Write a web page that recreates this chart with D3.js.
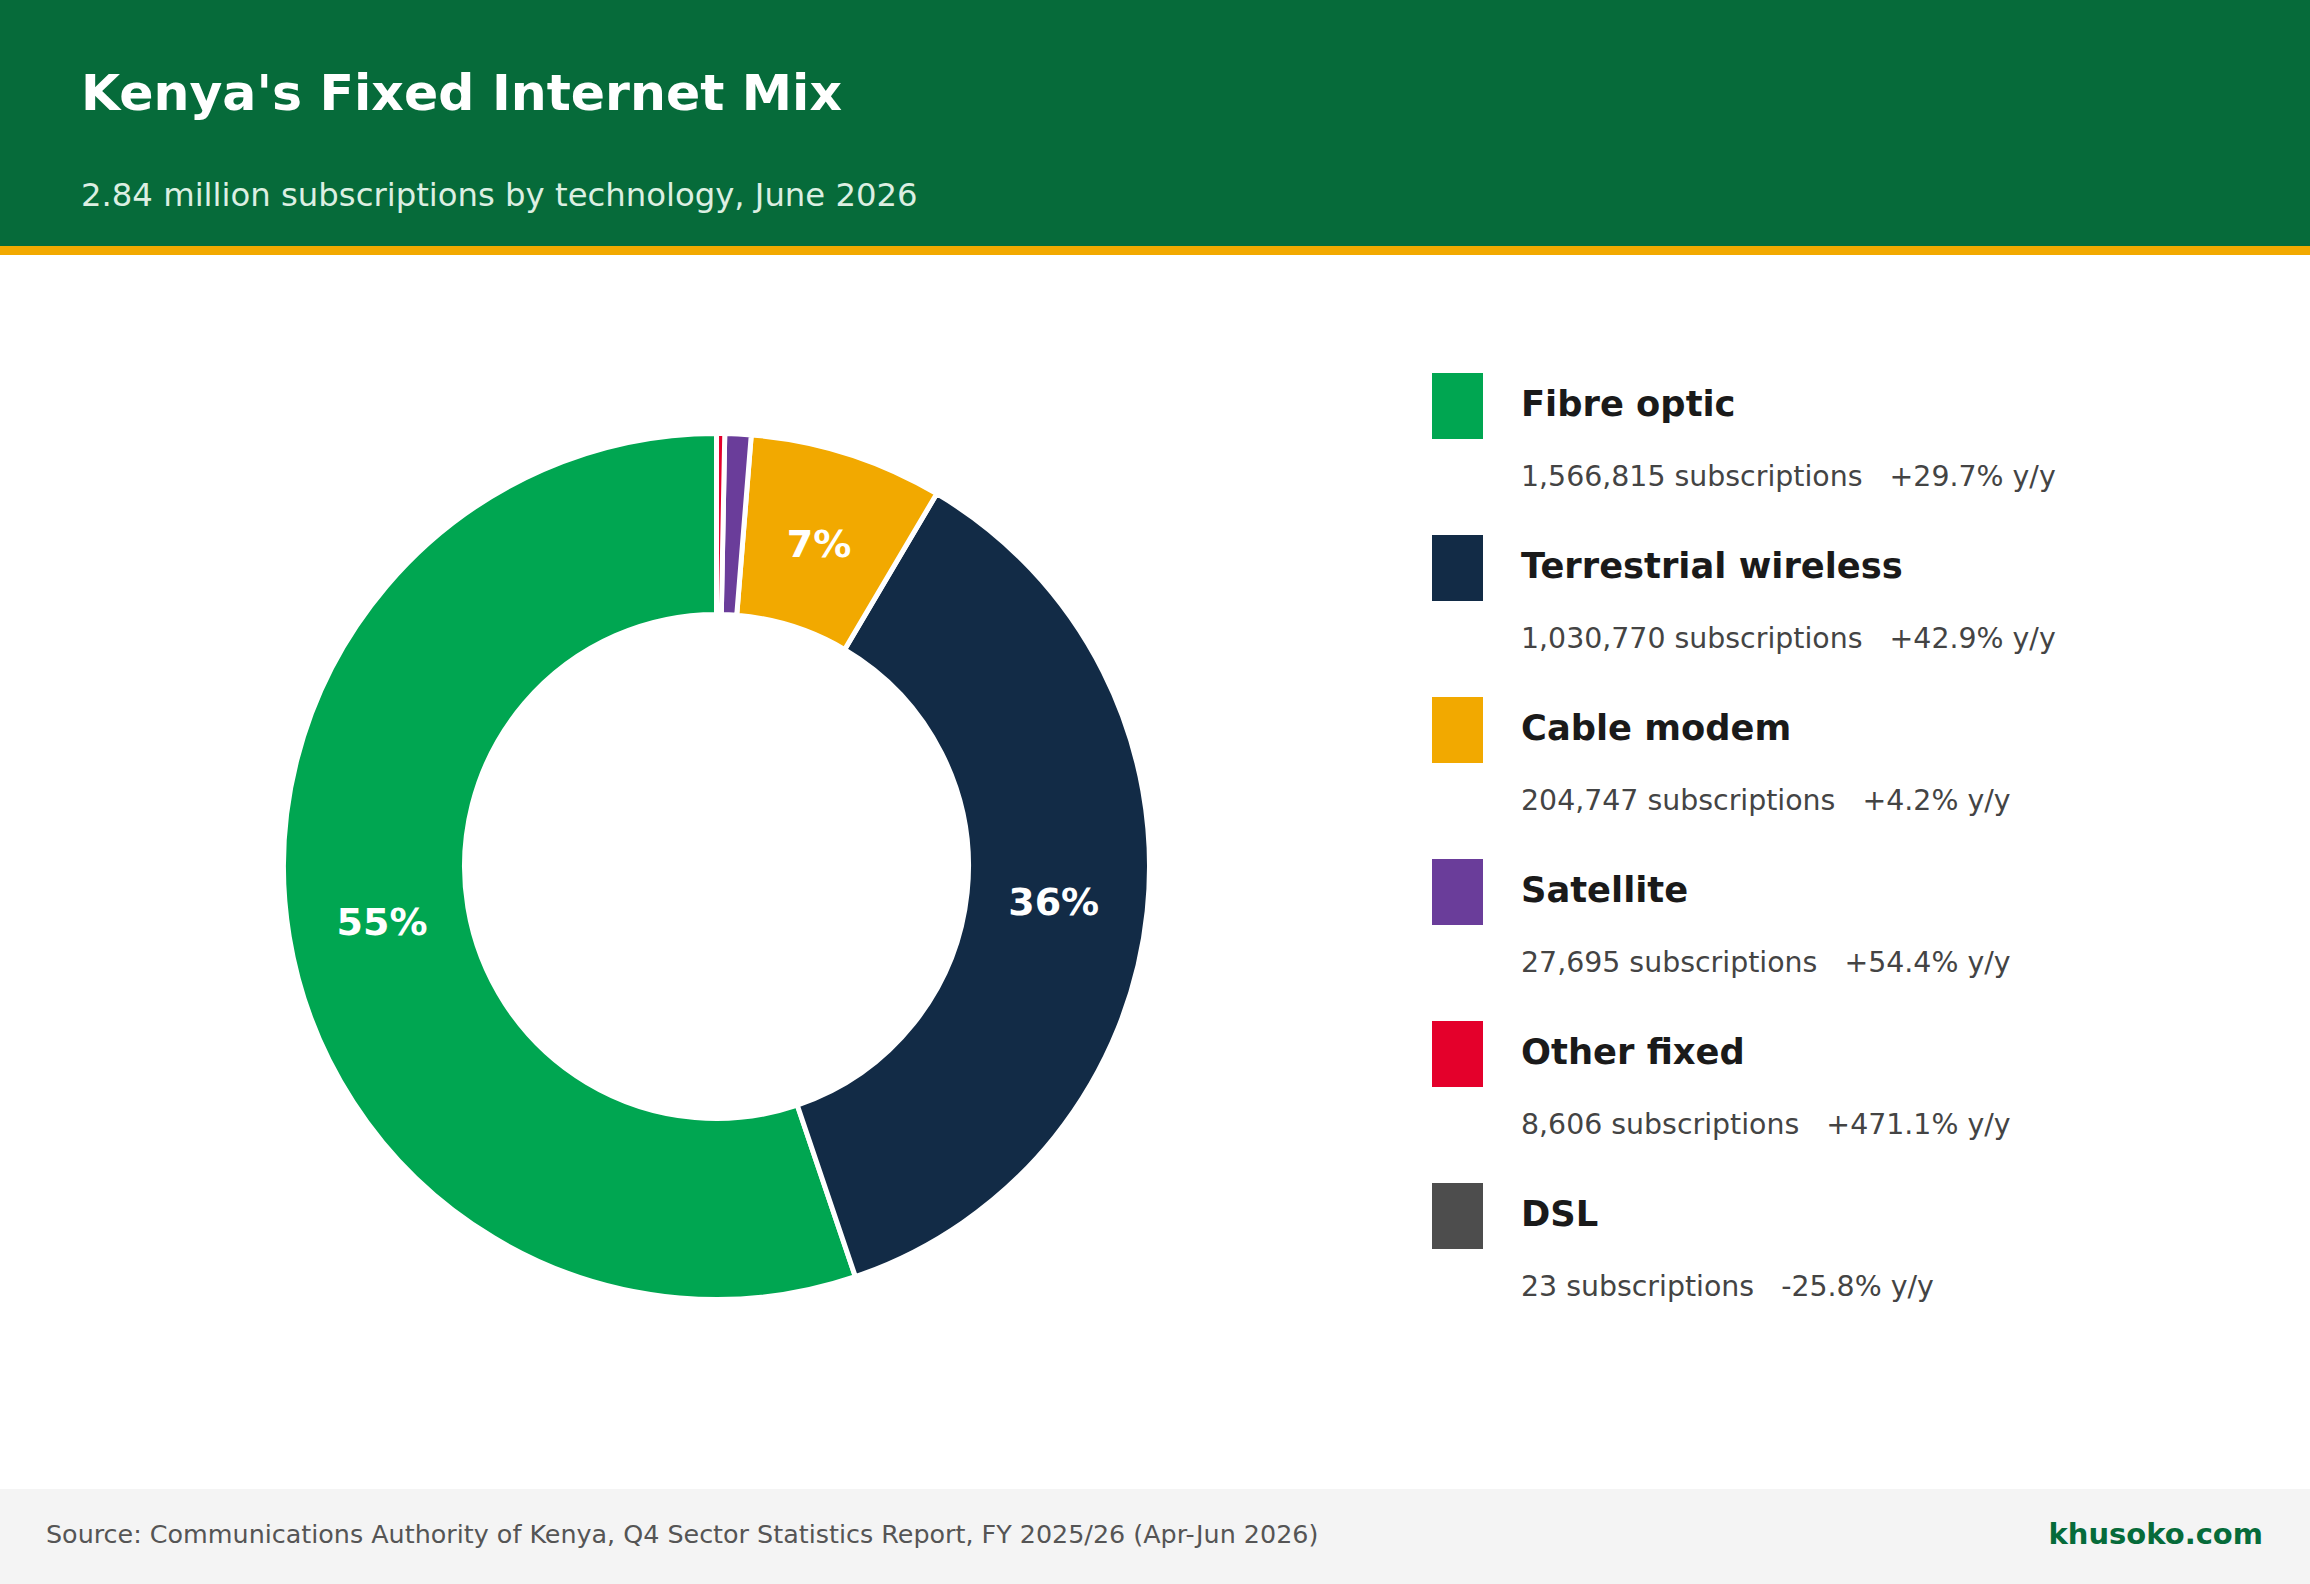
<!DOCTYPE html>
<html>
<head>
<meta charset="utf-8">
<title>Kenya's Fixed Internet Mix</title>
<script src="https://cdn.jsdelivr.net/npm/d3@7"></script>
<style>
  body { margin: 0; background: #ffffff; }
  svg text { font-family: "DejaVu Sans", sans-serif; }
</style>
</head>
<body>
<div id="chart"></div>
<script>
// Data
var technologies = ["Fibre optic", "Terrestrial wireless", "Cable modem", "Satellite", "Other fixed", "DSL"];
var subscriptions = [1566815, 1030770, 204747, 27695, 8606, 23];
var growthYoY = [29.7, 42.9, 4.2, 54.4, 471.1, -25.8];
var sliceColors = ["#00A651", "#122B46", "#F2A900", "#6A3D9A", "#E4002B", "#4D4D4D"];

var titleText = "Kenya's Fixed Internet Mix";
var subtitleText = "2.84 million subscriptions by technology, June 2026";
var sourceText = "Source: Communications Authority of Kenya, Q4 Sector Statistics Report, FY 2025/26 (Apr-Jun 2026)";
var brandText = "khusoko.com";

var width = 2310, height = 1584;

var svg = d3.select("#chart")
    .append("svg")
    .attr("width", width)
    .attr("height", height);

// Header band
svg.append("rect")
    .attr("x", 0).attr("y", 0)
    .attr("width", width).attr("height", 247)
    .attr("fill", "#066B3A");

svg.append("rect")
    .attr("x", 0).attr("y", 246)
    .attr("width", width).attr("height", 9)
    .attr("fill", "#F2A900");

svg.append("text")
    .attr("x", 81).attr("y", 110)
    .attr("fill", "#ffffff")
    .style("font-size", "50.5px")
    .style("font-weight", "bold")
    .text(titleText);

svg.append("text")
    .attr("x", 81).attr("y", 206)
    .attr("fill", "#DCEFE2")
    .style("font-size", "32.3px")
    .text(subtitleText);

// Donut
var rows = technologies.map(function (t, i) {
    return {name: t, value: subscriptions[i], growth: growthYoY[i], color: sliceColors[i]};
});
var total = d3.sum(subscriptions);

var pie = d3.pie()
    .sort(null)
    .value(function (d) { return d.value; })
    .startAngle(0)
    .endAngle(-2 * Math.PI);   // counter-clockwise from 12 o'clock

var outerR = 433, innerR = 252;
var arc = d3.arc().innerRadius(innerR).outerRadius(outerR);
var labelR = 339;
var labelArc = d3.arc().innerRadius(labelR).outerRadius(labelR);

var donut = svg.append("g")
    .attr("class", "donut")
    .attr("transform", "translate(716.5,866.5)");

var slices = pie(rows);

donut.selectAll(".slice")
    .data(slices)
    .enter()
    .append("path")
    .attr("class", "slice")
    .attr("d", arc)
    .attr("fill", function (d) { return d.data.color; })
    .attr("stroke", "#ffffff")
    .attr("stroke-width", 5)
    .attr("stroke-linejoin", "miter");

donut.selectAll(".pct")
    .data(slices.filter(function (d) { return d.data.value / total >= 0.03; }))
    .enter()
    .append("text")
    .attr("class", "pct")
    .attr("transform", function (d) { return "translate(" + labelArc.centroid(d) + ")"; })
    .attr("text-anchor", "middle")
    .attr("dy", "0.35em")
    .attr("fill", "#ffffff")
    .style("font-size", "38px")
    .style("font-weight", "bold")
    .text(function (d) { return Math.round(d.data.value / total * 100) + "%"; });

// Legend
var fmt = d3.format(",");
var growthFmt = function (g) { return (g >= 0 ? "+" : "") + g.toFixed(1) + "% y/y"; };

var legend = svg.selectAll(".legend_item")
    .data(rows)
    .enter()
    .append("g")
    .attr("class", "legend_item")
    .attr("transform", function (d, i) { return "translate(1432," + (373 + i * 162) + ")"; });

legend.append("rect")
    .attr("width", 51)
    .attr("height", 66)
    .attr("fill", function (d) { return d.color; });

legend.append("text")
    .attr("x", 89).attr("y", 43)
    .attr("fill", "#1a1a1a")
    .style("font-size", "35.3px")
    .style("font-weight", "bold")
    .text(function (d) { return d.name; });

legend.append("text")
    .attr("x", 89).attr("y", 113)
    .attr("fill", "#444444")
    .style("font-size", "28.4px")
    .style("white-space", "pre")
    .text(function (d) { return fmt(d.value) + " subscriptions   " + growthFmt(d.growth); });

// Footer
svg.append("rect")
    .attr("x", 0).attr("y", 1489)
    .attr("width", width).attr("height", height - 1489)
    .attr("fill", "#F4F4F4");

svg.append("text")
    .attr("x", 46).attr("y", 1543)
    .attr("fill", "#555555")
    .style("font-size", "25.4px")
    .text(sourceText);

svg.append("text")
    .attr("x", 2263).attr("y", 1544)
    .attr("text-anchor", "end")
    .attr("fill", "#066B3A")
    .style("font-size", "29px")
    .style("font-weight", "bold")
    .text(brandText);
</script>
</body>
</html>
